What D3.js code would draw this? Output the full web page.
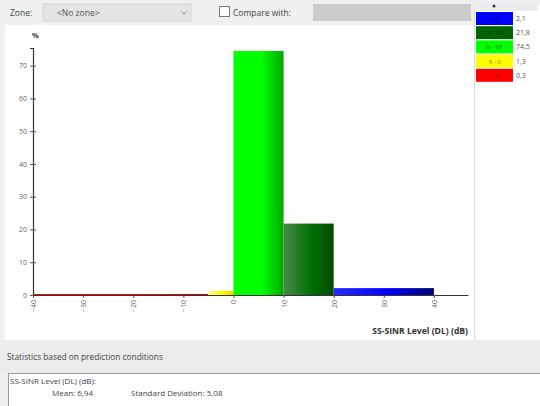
<!DOCTYPE html>
<html>
<head>
<meta charset="utf-8">
<script src="https://cdn.jsdelivr.net/npm/d3@7"></script>
<style>
  html, body { margin: 0; padding: 0; background: #f0f0f0; }
  svg { display: block; font-family: "Open Sans", "DejaVu Sans", sans-serif; }
</style>
</head>
<body>
<div id="chart"></div>
<script>
// histogram bins (dB) and share of area (%)
const binStart = [-40, -5, 0, 10, 20];
const binEnd = [-5, 0, 10, 20, 40];
const percents = [0.3, 1.3, 74.5, 21.8, 2.1];
const binColors = ["#ff0000", "#ffff00", "#00ff00", "#007000", "#0000ff"];
const binDark = ["#c00000", "#e8d000", "#00a800", "#004a00", "#00006a"];
const binLight = ["#ff0000", "#fffca0", "#00ff00", "#4a8a4a", "#2a2aff"];

// legend rows (top to bottom)
const legendLabels = [">=20", "10 - 20", "0 - 10", "-5 - 0", "< -5"];
const legendValues = ["2,1", "21,8", "74,5", "1,3", "0,3"];
const legendColors = ["#0000ff", "#006400", "#00ff00", "#ffff00", "#ff0000"];
const legendText = ["#000060", "#003000", "#006000", "#807000", "#800000"];

const xTicks = [-40, -30, -20, -10, 0, 10, 20, 30, 40];
const yTicks = [0, 10, 20, 30, 40, 50, 60, 70];

const statsLines = ["Mean: 6,94", "Standard Deviation: 5,08"];

const width = 540;
const height = 406;

const svg = d3.create("svg")
  .attr("viewBox", [0, 0, width, height])
  .attr("width", width)
  .attr("height", height);

// window backgrounds
svg.append("rect").attr("x", 0).attr("y", 0).attr("width", width).attr("height", height).attr("fill", "#f0f0f0");
svg.append("rect").attr("x", 5).attr("y", 25).attr("width", 469).attr("height", 315).attr("fill", "#ffffff");
svg.append("rect").attr("x", 474).attr("y", 5).attr("width", 66).attr("height", 335).attr("fill", "#ffffff");
svg.append("line").attr("x1", 474.5).attr("x2", 474.5).attr("y1", 5).attr("y2", 340).attr("stroke", "#dcdcdc");

// toolbar
svg.append("text").attr("x", 10).attr("y", 15.5).attr("font-size", 8.5).attr("fill", "#444").text("Zone:");
svg.append("rect").attr("x", 43).attr("y", 4).attr("width", 148).attr("height", 17).attr("fill", "#e4e4e4").attr("stroke", "#d4d4d4");
svg.append("text").attr("x", 57).attr("y", 15.5).attr("font-size", 8.5).attr("fill", "#555").text("<No zone>");
svg.append("path").attr("d", "M181,11 L184,14 L187,11").attr("fill", "none").attr("stroke", "#888");
svg.append("rect").attr("x", 219.5).attr("y", 6.5).attr("width", 10).attr("height", 10).attr("fill", "#fff").attr("stroke", "#777");
svg.append("text").attr("x", 233).attr("y", 15.5).attr("font-size", 8.5).attr("fill", "#444").text("Compare with:");
svg.append("rect").attr("x", 313).attr("y", 4).attr("width", 158).attr("height", 17).attr("fill", "#cccccc");

// legend
const legend = svg.append("g");
legend.append("rect").attr("x", 476).attr("y", 2).attr("width", 62).attr("height", 9).attr("fill", "#ececec");
legend.append("circle").attr("cx", 494).attr("cy", 6).attr("r", 1.5).attr("fill", "#333");
legend.selectAll("rect.sw")
  .data(legendColors)
  .join("rect")
  .attr("class", "sw")
  .attr("x", 476)
  .attr("y", (d, i) => 12 + i * 14.2)
  .attr("width", 37)
  .attr("height", 13)
  .attr("fill", (d) => d);
legend.selectAll("text.lab")
  .data(legendLabels)
  .join("text")
  .attr("class", "lab")
  .attr("x", 494)
  .attr("y", (d, i) => 21 + i * 14.2)
  .attr("text-anchor", "middle")
  .attr("font-size", 6)
  .attr("fill", (d, i) => legendText[i])
  .text((d) => d);
legend.selectAll("text.val")
  .data(legendValues)
  .join("text")
  .attr("class", "val")
  .attr("x", 516)
  .attr("y", (d, i) => 21 + i * 14.2)
  .attr("font-size", 7)
  .attr("fill", "#555")
  .text((d) => d);

// scales
const x = d3.scaleLinear().domain([-40, 46.8]).range([33, 468]);
const y = d3.scaleLinear().domain([0, 75.4]).range([295, 48]);

// gradients for the shaded bars
const defs = svg.append("defs");
binColors.forEach((c, i) => {
  const g = defs.append("linearGradient").attr("id", `grad${i}`).attr("x1", 0).attr("x2", 1).attr("y1", 0).attr("y2", 0);
  g.append("stop").attr("offset", "0%").attr("stop-color", binLight[i]);
  g.append("stop").attr("offset", "55%").attr("stop-color", c);
  g.append("stop").attr("offset", "100%").attr("stop-color", binDark[i]);
});

const bins = percents.map((p, i) => ({ x0: binStart[i], x1: binEnd[i], p, i }));

svg.append("g")
  .selectAll("rect")
  .data(bins)
  .join("rect")
  .attr("x", (d) => x(d.x0))
  .attr("y", (d) => y(d.p))
  .attr("width", (d) => x(d.x1) - x(d.x0))
  .attr("height", (d) => Math.max(1.2, y(0) - y(d.p)))
  .attr("fill", (d) => `url(#grad${d.i})`);

// y axis
const yAxis = svg.append("g")
  .attr("transform", `translate(${x(-40)},0)`)
  .call(d3.axisLeft(y).tickValues(yTicks).tickSize(3).tickPadding(3));
yAxis.select(".domain").attr("stroke", "#333").attr("stroke-width", 1.2);
yAxis.selectAll(".tick line").attr("stroke", "#555").attr("x2", 3).attr("x1", -3);
yAxis.selectAll(".tick text").attr("font-size", 7).attr("fill", "#666").attr("font-family", "Open Sans, sans-serif");

// x axis
const xAxis = svg.append("g")
  .attr("transform", `translate(0,${y(0)})`)
  .call(d3.axisBottom(x).tickValues(xTicks).tickSize(3).tickSizeOuter(0));
xAxis.select(".domain").attr("stroke", "#333").attr("stroke-width", 1.2);
xAxis.selectAll(".tick line").attr("stroke", "#555");
xAxis.selectAll(".tick text")
  .attr("font-size", 7)
  .attr("fill", "#666")
  .attr("font-family", "Open Sans, sans-serif")
  .attr("transform", "rotate(-90)")
  .attr("text-anchor", "end")
  .attr("x", -5)
  .attr("y", 0)
  .attr("dy", "0.35em");

svg.append("text").attr("x", 32).attr("y", 38).attr("font-size", 7.5).attr("font-weight", "bold").attr("fill", "#333").text("%");
svg.append("text")
  .attr("x", 468)
  .attr("y", 334)
  .attr("text-anchor", "end")
  .attr("font-size", 8.6)
  .attr("font-weight", "bold")
  .attr("fill", "#333")
  .text("SS-SINR Level (DL) (dB)");

// statistics panel
svg.append("rect").attr("x", 0).attr("y", 340).attr("width", width).attr("height", 33).attr("fill", "#ececec");
svg.append("text").attr("x", 7).attr("y", 360).attr("font-size", 8.3).attr("fill", "#444").text("Statistics based on prediction conditions");
svg.append("rect").attr("x", 8).attr("y", 373).attr("width", 540).attr("height", 40).attr("fill", "#ffffff");
svg.append("line").attr("x1", 8).attr("x2", 540).attr("y1", 373.5).attr("y2", 373.5).attr("stroke", "#999");
svg.append("line").attr("x1", 8.5).attr("x2", 8.5).attr("y1", 373).attr("y2", 406).attr("stroke", "#999");
svg.append("text").attr("x", 10).attr("y", 384).attr("font-size", 8).attr("fill", "#444").text("SS-SINR Level (DL) (dB):");
svg.selectAll("text.stat")
  .data(statsLines)
  .join("text")
  .attr("class", "stat")
  .attr("x", (d, i) => [52, 131][i])
  .attr("y", 396)
  .attr("font-size", 8)
  .attr("fill", "#444")
  .text((d) => d);

d3.select("#chart").append(() => svg.node());
</script>
</body>
</html>
